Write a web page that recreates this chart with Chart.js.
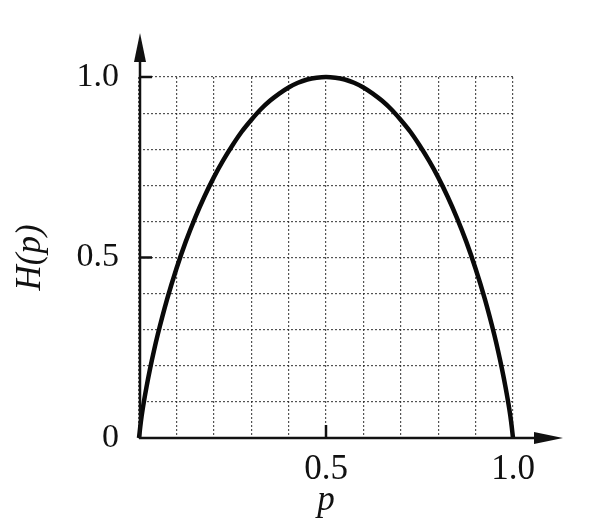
<!DOCTYPE html>
<html>
<head>
<meta charset="utf-8">
<script src="https://cdn.jsdelivr.net/npm/chart.js@4/dist/chart.umd.min.js"></script>
<style>
  html, body { margin: 0; padding: 0; background: #fff; }
  canvas { display: block; }
</style>
</head>
<body>
<canvas id="c" width="610" height="530"></canvas>
<script>
// Values (H(p) curve)
const pValues = [0, 0.005, 0.01, 0.02, 0.03, 0.04, 0.05, 0.075, 0.1, 0.125, 0.15, 0.175, 0.2, 0.225, 0.25, 0.275,
                 0.3, 0.325, 0.35, 0.375, 0.4, 0.425, 0.45, 0.475, 0.5,
                 0.525, 0.55, 0.575, 0.6, 0.625, 0.65, 0.675, 0.7, 0.725, 0.75, 0.775, 0.8, 0.825, 0.85, 0.875,
                 0.9, 0.925, 0.95, 0.96, 0.97, 0.98, 0.99, 0.995, 1];
const hValues = [0, 0.045, 0.081, 0.141, 0.194, 0.242, 0.286, 0.384, 0.469, 0.544, 0.610, 0.669, 0.722, 0.769, 0.811, 0.849,
                 0.881, 0.910, 0.934, 0.954, 0.971, 0.984, 0.993, 0.998, 1.0,
                 0.998, 0.993, 0.984, 0.971, 0.954, 0.934, 0.910, 0.881, 0.849, 0.811, 0.769, 0.722, 0.669, 0.610, 0.544,
                 0.469, 0.384, 0.286, 0.242, 0.194, 0.141, 0.081, 0.045, 0];
const xTickLabels = ["0.5", "1.0"];
const yTickLabels = ["0", "0.5", "1.0"];
const xTitle = "p";
const yTitle = "H(p)";

const points = pValues.map((p, i) => ({ x: p, y: hValues[i] }));

function labelFor(v, labels) {
  for (const l of labels) {
    if (Math.abs(parseFloat(l) - v) < 1e-6) return l;
  }
  return "";
}

const serif = "'Liberation Serif', 'Times New Roman', serif";

const axesPlugin = {
  id: 'axesArrows',
  beforeDraw(chart) {
    const ctx = chart.ctx;
    ctx.save();
    ctx.fillStyle = '#fff';
    ctx.fillRect(0, 0, chart.width, chart.height);
    ctx.restore();
  },
  afterDraw(chart) {
    const ctx = chart.ctx;
    const xs = chart.scales.x, ys = chart.scales.y;
    const x0 = xs.getPixelForValue(0), y0 = ys.getPixelForValue(0);
    const x1 = xs.getPixelForValue(1), y1 = ys.getPixelForValue(1);
    ctx.save();
    ctx.strokeStyle = '#111';
    ctx.fillStyle = '#111';
    ctx.lineWidth = 2.5;
    // y axis
    ctx.beginPath();
    ctx.moveTo(x0 + 1, y0 + 1);
    ctx.lineTo(x0 + 1, y1 - 25);
    ctx.stroke();
    ctx.beginPath();
    ctx.moveTo(x0 + 1, y1 - 44);
    ctx.lineTo(x0 - 5, y1 - 15);
    ctx.lineTo(x0 + 7, y1 - 15);
    ctx.closePath();
    ctx.fill();
    // x axis
    ctx.beginPath();
    ctx.moveTo(x0, y0);
    ctx.lineTo(x1 + 25, y0);
    ctx.stroke();
    ctx.beginPath();
    ctx.moveTo(x1 + 50, y0);
    ctx.lineTo(x1 + 21, y0 - 6);
    ctx.lineTo(x1 + 21, y0 + 6);
    ctx.closePath();
    ctx.fill();
    // inward tick marks
    ctx.lineWidth = 2.5;
    [0.5, 1].forEach(v => {
      const py = ys.getPixelForValue(v);
      ctx.beginPath();
      ctx.moveTo(x0, py);
      ctx.lineTo(x0 + 13, py);
      ctx.stroke();
    });
    [0.5].forEach(v => {
      const px = xs.getPixelForValue(v);
      ctx.beginPath();
      ctx.moveTo(px, y0);
      ctx.lineTo(px, y0 - 13);
      ctx.stroke();
    });
    ctx.restore();
  }
};

new Chart(document.getElementById('c'), {
  type: 'scatter',
  data: {
    datasets: [{
      data: points,
      showLine: true,
      borderColor: '#0a0a0a',
      borderWidth: 4.5,
      pointRadius: 0,
      cubicInterpolationMode: 'monotone',
      fill: false,
      clip: false
    }]
  },
  options: {
    responsive: false,
    animation: false,
    devicePixelRatio: 1,
    layout: { padding: { left: 0, top: 77, right: 97, bottom: 0 } },
    plugins: { legend: { display: false }, tooltip: { enabled: false } },
    scales: {
      x: {
        type: 'linear',
        min: 0, max: 1,
        afterFit(scale) { scale.height = 92; },
        afterBuildTicks(scale) {
          const t = [];
          for (let i = 0; i <= 10; i++) t.push({ value: i / 10 });
          scale.ticks = t;
        },
        ticks: {
          autoSkip: false,
          maxRotation: 0,
          padding: 11,
          color: '#111',
          font: { family: serif, size: 35, lineHeight: 1.2 },
          callback: (v) => labelFor(v, xTickLabels)
        },
        grid: { drawTicks: false, color: 'rgba(40,40,40,0.8)', lineWidth: 1.2 },
        border: { display: false, dash: [2, 2] },
        title: {
          display: true, text: xTitle, color: '#111',
          font: { family: serif, size: 35, style: 'italic', lineHeight: 1.2 },
          padding: { top: 0, bottom: 8 }
        }
      },
      y: {
        type: 'linear',
        min: 0, max: 1,
        afterFit(scale) { scale.width = 139; },
        afterBuildTicks(scale) {
          const t = [];
          for (let i = 0; i <= 10; i++) t.push({ value: i / 10 });
          scale.ticks = t;
        },
        ticks: {
          autoSkip: false,
          padding: 20,
          color: '#111',
          font: { family: serif, size: 34, lineHeight: 1.2 },
          callback: (v) => labelFor(v, yTickLabels)
        },
        grid: { drawTicks: false, color: 'rgba(40,40,40,0.8)', lineWidth: 1.2 },
        border: { display: false, dash: [2, 2] },
        title: {
          display: true, text: yTitle, color: '#111',
          font: { family: serif, size: 35, style: 'italic', lineHeight: 1.2 },
          padding: { top: 10, bottom: 0 }
        }
      }
    }
  },
  plugins: [axesPlugin]
});
</script>
</body>
</html>
